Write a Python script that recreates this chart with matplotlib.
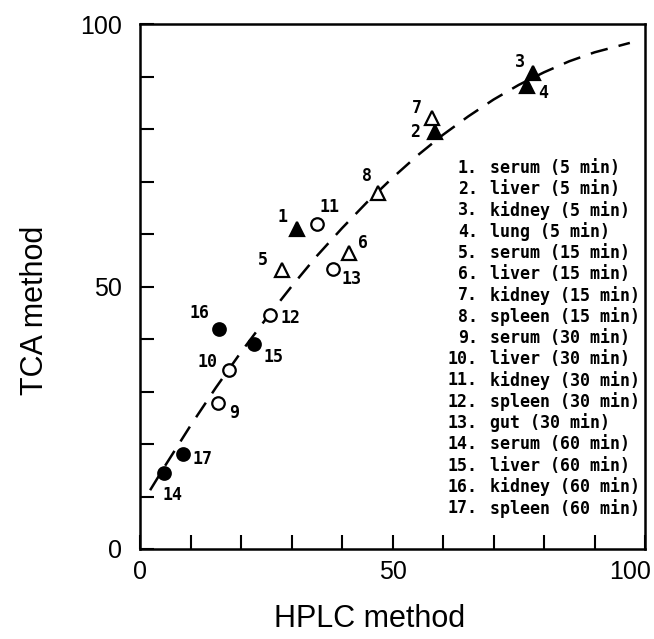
import matplotlib
matplotlib.use("Agg")
import matplotlib.pyplot as plt
import matplotlib.transforms as mtransforms

# sample numbers and their HPLC / TCA values
ids = list(range(1, 18))
hplc = [31.1, 58.4, 77.8, 76.6, 28.1, 41.4, 57.8, 47.1, 15.4, 17.6, 35.0, 25.7, 38.2, 4.8, 22.6, 15.6, 8.5]
tca = [61.0, 79.4, 90.7, 88.2, 53.1, 56.4, 82.1, 67.8, 27.8, 34.1, 61.9, 44.6, 53.3, 14.5, 39.0, 41.9, 18.1]

names = ["serum (5 min)", "liver (5 min)", "kidney (5 min)", "lung (5 min)",
         "serum (15 min)", "liver (15 min)", "kidney (15 min)", "spleen (15 min)",
         "serum (30 min)", "liver (30 min)", "kidney (30 min)", "spleen (30 min)",
         "gut (30 min)", "serum (60 min)", "liver (60 min)", "kidney (60 min)",
         "spleen (60 min)"]

# dashed fitted curve
curve_x = [2, 5, 10, 15, 20, 25, 30, 35, 40, 45, 50, 55, 60, 65, 70, 75, 80, 85, 90, 97]
curve_y = [11.2, 15.9, 23.5, 30.7, 37.5, 43.9, 50.0, 55.8, 61.1, 66.1, 70.7, 75.0,
           78.9, 82.4, 85.6, 88.4, 90.8, 92.9, 94.6, 96.4]

# marker style per group (5, 15, 30, 60 min)
groups = [([1, 2, 3, 4], "^", "black"),
          ([5, 6, 7, 8], "^", "white"),
          ([9, 10, 11, 12, 13], "o", "white"),
          ([14, 15, 16, 17], "o", "black")]

# label offsets from each point, in pixels
label_off = {1: (-15, 12), 2: (-20, 0), 3: (-13, 11), 4: (16, -7), 5: (-19, 10),
             6: (14, 10), 7: (-15, 10), 8: (-11, 17), 9: (16, -10), 10: (-21, 8),
             11: (13, 17), 12: (21, -3), 13: (19, -10), 14: (8, -22), 15: (19, -13),
             16: (-19, 16), 17: (20, -5)}

fig = plt.figure(figsize=(6.54, 6.39), dpi=100)
ax = fig.add_axes([140 / 654, 90 / 639, 505 / 654, 525 / 639])

ax.plot(curve_x, curve_y, color="black", lw=1.8, dashes=(7, 4.5), zorder=1)

for members, mk, fc in groups:
    xs = [hplc[i - 1] for i in members]
    ys = [tca[i - 1] for i in members]
    ax.plot(xs, ys, linestyle="none", marker=mk, ms=9.5 if mk == "^" else 9,
            mfc=fc, mec="black", mew=1.6, zorder=3)

mono = dict(family="DejaVu Sans Mono", fontsize=12, fontweight="bold")
for i in ids:
    dx, dy = label_off[i]
    ax.annotate(str(i), (hplc[i - 1], tca[i - 1]), xytext=(dx, dy),
                textcoords="offset pixels", ha="center", va="center", **mono)

# key listing on the right
row0 = 72.6
step = 4.05
for k, (i, name) in enumerate(zip(ids, names)):
    y = row0 - k * step
    ax.text(66.9, y, f"{i}.", ha="right", va="center", **mono)
    ax.text(69.3, y, name, ha="left", va="center", **mono)

ax.set_xlim(0, 100)
ax.set_ylim(0, 100)
ticks = list(range(0, 101, 10))
labels = [str(t) if t in (0, 50, 100) else "" for t in ticks]
ax.set_xticks(ticks)
ax.set_xticklabels(labels)
ax.set_yticks(ticks)
ax.set_yticklabels(labels)
ax.tick_params(direction="in", length=10, width=1.5, labelsize=18)
ax.tick_params(axis="x", pad=8)
ax.tick_params(axis="y", pad=13)
for lab in ax.get_xticklabels() + ax.get_yticklabels():
    lab.set_family("Liberation Sans")
last = ax.get_xticklabels()[-1]
last.set_transform(last.get_transform() + mtransforms.ScaledTranslation(-0.15, 0, fig.dpi_scale_trans))

for sp in ax.spines.values():
    sp.set_linewidth(1.8)

fig.text(370 / 654, 12 / 639, "HPLC method", family="Liberation Sans", fontsize=22,
         ha="center", va="baseline")
fig.text(43 / 654, 1 - 310 / 639, "TCA method", family="Liberation Sans", fontsize=22,
         ha="center", va="baseline", rotation=90, rotation_mode="anchor")

fig.savefig("out.png", dpi=100)
